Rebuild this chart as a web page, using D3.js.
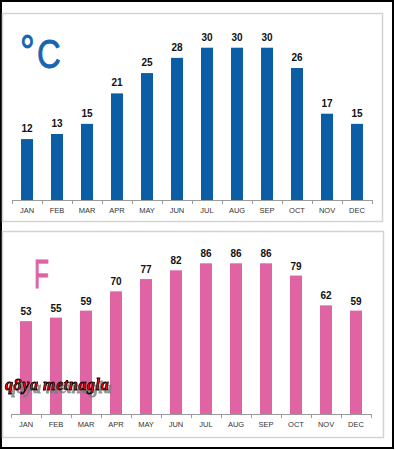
<!DOCTYPE html>
<html lang='en'>
    <head>
        <meta charset="utf-8">
        <title>Monthly temperature</title>
        <script src='https://d3js.org/d3.v7.min.js'></script>
        <style>
            body { margin: 0; background: #fff; }
            svg { display: block; }
        </style>
    </head>
    <body>
        <script type='text/javascript'>
            var w = 395;
            var h = 450;

            var months = ['JAN','FEB','MAR','APR','MAY','JUN','JUL','AUG','SEP','OCT','NOV','DEC'];
            var celsius = [12, 13, 15, 21, 25, 28, 30, 30, 30, 26, 17, 15];
            var fahrenheit = [53, 55, 59, 70, 77, 82, 86, 86, 86, 79, 62, 59];

            var svg = d3.select('body')
                        .append('svg')
                        .attr('width', w)
                        .attr('height', h);

            // shadow for the watermark
            var filt = svg.append('defs').append('filter')
                .attr('id', 'wmShadow')
                .attr('x', '-10%').attr('y', '-30%')
                .attr('width', '130%').attr('height', '180%');
            filt.append('feDropShadow')
                .attr('dx', 3).attr('dy', 3)
                .attr('stdDeviation', 0.6)
                .attr('flood-color', '#777')
                .attr('flood-opacity', 0.8);

            // outer black frame
            svg.append('rect')
                .attr('x', 1).attr('y', 1)
                .attr('width', w - 3).attr('height', h - 3)
                .attr('fill', '#fff')
                .attr('stroke', '#000')
                .attr('stroke-width', 2);

            // one panel = one chart
            function drawPanel(opt) {
                var g = svg.append('g');

                g.append('rect')
                    .attr('x', opt.box[0]).attr('y', opt.box[1])
                    .attr('width', opt.box[2]).attr('height', opt.box[3])
                    .attr('fill', '#fff')
                    .attr('stroke', '#d3d3d3')
                    .attr('stroke-width', 1.5);

                var xScale = d3.scaleBand()
                    .domain(months)
                    .range([opt.x0, opt.x0 + 360])
                    .padding(0);

                var yScale = d3.scaleLinear()
                    .domain([0, opt.max])
                    .range([opt.base, opt.top]);

                var barW = xScale.bandwidth() * 0.4;

                g.selectAll('rect.bar')
                    .data(opt.values)
                    .enter()
                    .append('rect')
                    .attr('class', 'bar')
                    .attr('x', function(d, i){ return xScale(months[i]) + (xScale.bandwidth() - barW) / 2; })
                    .attr('y', function(d){ return yScale(d); })
                    .attr('width', barW)
                    .attr('height', function(d){ return opt.base - yScale(d); })
                    .attr('fill', opt.color);

                // value labels
                g.selectAll('text.val')
                    .data(opt.values)
                    .enter()
                    .append('text')
                    .attr('class', 'val')
                    .text(function(d){ return d; })
                    .attr('x', function(d, i){ return xScale(months[i]) + xScale.bandwidth() / 2; })
                    .attr('y', function(d){ return yScale(d) - opt.labelGap; })
                    .attr('text-anchor', 'middle')
                    .attr('font-family', 'Liberation Sans, Arial, sans-serif')
                    .attr('font-weight', 'bold')
                    .attr('font-size', '10px')
                    .attr('fill', '#111');

                // month labels
                var axis = g.append('g')
                    .attr('transform', 'translate(0,' + opt.base + ')')
                    .call(d3.axisBottom(xScale).tickSize(0).tickPadding(8));
                axis.select('.domain').remove();
                axis.selectAll('text')
                    .attr('font-family', 'Liberation Sans, Arial, sans-serif')
                    .attr('font-size', '7.5px')
                    .attr('fill', '#333');

                // baseline and band-edge ticks
                g.append('line')
                    .attr('x1', opt.x0).attr('x2', opt.x0 + 360)
                    .attr('y1', opt.base + 0.5).attr('y2', opt.base + 0.5)
                    .attr('stroke', '#9a9a9a');
                var edges = months.map(function(m){ return xScale(m); }).concat([opt.x0 + 360]);
                g.selectAll('line.tick')
                    .data(edges)
                    .enter()
                    .append('line')
                    .attr('class', 'tick')
                    .attr('x1', function(d){ return d + 0.5; })
                    .attr('x2', function(d){ return d + 0.5; })
                    .attr('y1', opt.base)
                    .attr('y2', opt.base + 4)
                    .attr('stroke', '#9a9a9a');

                // big unit title, squeezed sideways
                var t = g.append('text')
                    .attr('transform', 'translate(' + opt.titleX + ',' + opt.titleY + ') scale(' + opt.titleScale + ',1)')
                    .attr('font-family', 'Liberation Sans, Arial, sans-serif')
                    .attr('font-size', '41px')
                    .attr('fill', opt.titleColor)
                    .attr('stroke', opt.titleColor)
                    .attr('stroke-width', 0.9);
                opt.title.forEach(function(part){
                    t.append('tspan')
                        .attr('dx', part.dx)
                        .attr('font-size', part.size)
                        .text(part.s);
                });
            }

            drawPanel({
                box: [2.5, 13.5, 380, 208],
                x0: 12, base: 200, top: 47.7, max: 30,
                values: celsius, color: '#0b5ea6', labelGap: 7,
                title: [{s: '°', dx: 0, size: '46px'}, {s: 'C', dx: 3, size: '41px'}],
                titleX: 20, titleY: 68, titleScale: 0.8, titleColor: '#1565b0'
            });

            drawPanel({
                box: [2.5, 231.5, 381, 206],
                x0: 11, base: 414, top: 263.3, max: 86,
                values: fahrenheit, color: '#e064a4', labelGap: 6,
                title: [{s: 'F', dx: 0, size: '41px'}],
                titleX: 34, titleY: 288, titleScale: 0.6, titleColor: '#e062a4'
            });

            // watermark
            svg.append('text')
                .text('q8ya metnagla')
                .attr('x', 5).attr('y', 390)
                .attr('font-family', 'Liberation Serif, serif')
                .attr('font-style', 'italic')
                .attr('font-weight', 'bold')
                .attr('font-size', '16px')
                .attr('letter-spacing', '0.6px')
                .attr('fill', '#ff0000')
                .attr('stroke', '#000')
                .attr('stroke-width', 0.8)
                .attr('filter', 'url(#wmShadow)');
        </script>
    </body>
</html>
